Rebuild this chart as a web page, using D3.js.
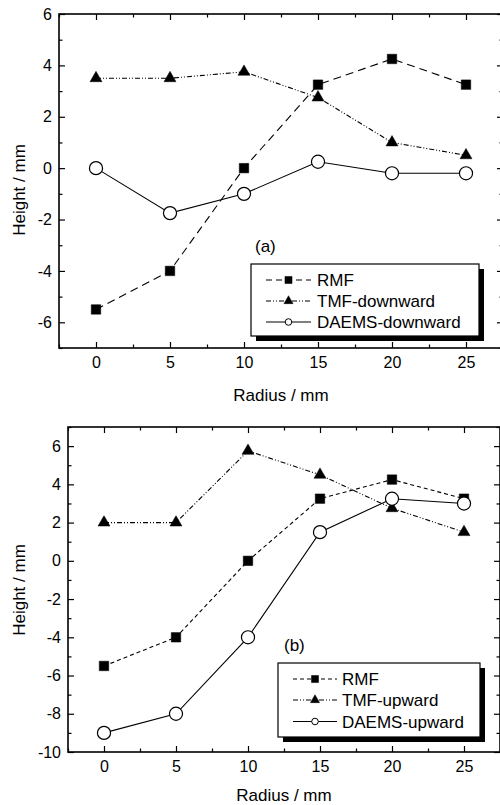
<!DOCTYPE html>
<html>
<head>
<meta charset="utf-8">
<script src="https://cdn.jsdelivr.net/npm/d3@7"></script>
<style>
  html, body { margin: 0; padding: 0; background: #fff; }
  svg { display: block; font-family: Arial, "Liberation Sans", sans-serif; }
</style>
</head>
<body>
<svg id="fig" width="500" height="805"></svg>
<script>
// Radius positions (mm) shared by both panels
const radius = [0, 5, 10, 15, 20, 25];

// Panel (a): downward field
const rmfA = [-5.5, -4, 0, 3.25, 4.25, 3.25];
const tmfDownward = [3.5, 3.5, 3.75, 2.75, 1.0, 0.5];
const daemsDownward = [0, -1.75, -1.0, 0.25, -0.2, -0.2];

// Panel (b): upward field
const rmfB = [-5.5, -4, 0, 3.25, 4.25, 3.25];
const tmfUpward = [2, 2, 5.75, 4.5, 2.75, 1.5];
const daemsUpward = [-9, -8, -4, 1.5, 3.25, 3.0];

// Tick values
const xMajorTicks = [0, 5, 10, 15, 20, 25];
const xMinorTicks = [-2.5, 2.5, 7.5, 12.5, 17.5, 22.5, 27.5];
const yMajorTicksA = [-6, -4, -2, 0, 2, 4, 6];
const yMajorTicksB = [-10, -8, -6, -4, -2, 0, 2, 4, 6];

const svg = d3.select("#fig");

function drawPanel(p) {
  const x = d3.scaleLinear().domain([-2.5, 27.5]).range([p.left, p.right]);
  const y = d3.scaleLinear().domain(p.yDomain).range([p.bottom, p.top]);
  const g = svg.append("g");

  const yMinor = d3.range(Math.ceil(p.yDomain[0]), p.yDomain[1] + 0.001, 1)
    .filter(v => !p.yTicks.includes(v));

  const fontSize = "16px";

  // bottom axis (labelled) + inward ticks
  const bx = g.append("g").attr("transform", `translate(0,${p.bottom})`)
    .call(d3.axisBottom(x).tickValues(xMajorTicks).tickSize(-6).tickPadding(9));
  bx.selectAll("text").attr("font-size", fontSize).attr("fill", "#000");
  g.append("g").attr("transform", `translate(0,${p.bottom})`)
    .call(d3.axisBottom(x).tickValues(xMinorTicks).tickSize(-3.5).tickFormat(""));

  // top axis, inward ticks, no labels
  g.append("g").attr("transform", `translate(0,${p.top})`)
    .call(d3.axisTop(x).tickValues(xMajorTicks).tickSize(-6).tickFormat(""));
  g.append("g").attr("transform", `translate(0,${p.top})`)
    .call(d3.axisTop(x).tickValues(xMinorTicks).tickSize(-3.5).tickFormat(""));

  // left axis (labelled)
  const ly = g.append("g").attr("transform", `translate(${p.left},0)`)
    .call(d3.axisLeft(y).tickValues(p.yTicks).tickSize(-6).tickPadding(7)
      .tickFormat(d => d < 0 ? "-" + Math.abs(d) : d));
  ly.selectAll("text").attr("font-size", fontSize).attr("fill", "#000");
  g.append("g").attr("transform", `translate(${p.left},0)`)
    .call(d3.axisLeft(y).tickValues(yMinor).tickSize(-3.5).tickFormat(""));

  // right axis, inward ticks
  g.append("g").attr("transform", `translate(${p.right},0)`)
    .call(d3.axisRight(y).tickValues(p.yTicks).tickSize(-6).tickFormat(""));
  g.append("g").attr("transform", `translate(${p.right},0)`)
    .call(d3.axisRight(y).tickValues(yMinor).tickSize(-3.5).tickFormat(""));

  g.selectAll(".domain").remove();
  g.selectAll(".tick line").attr("stroke", "#000").attr("stroke-width", 1.2);

  // frame
  g.append("rect")
    .attr("x", p.left).attr("y", p.top)
    .attr("width", p.right - p.left).attr("height", p.bottom - p.top)
    .attr("fill", "none").attr("stroke", "#000").attr("stroke-width", 1.6);

  // axis titles
  g.append("text")
    .attr("x", (p.left + p.right) / 2).attr("y", p.xTitleY)
    .attr("text-anchor", "middle").attr("font-size", "17px")
    .text("Radius / mm");
  g.append("text")
    .attr("transform", `translate(${p.yTitleX},${p.yTitleCY}) rotate(-90)`)
    .attr("text-anchor", "middle").attr("font-size", "17px")
    .text("Height / mm");

  // panel tag
  g.append("text").attr("x", p.tagX).attr("y", p.tagY)
    .attr("font-size", "17px").text(p.tag);

  const line = d3.line().x((d, i) => x(radius[i])).y(d => y(d));

  p.series.forEach(s => {
    g.append("path").datum(s.values)
      .attr("d", line)
      .attr("fill", "none").attr("stroke", "#000").attr("stroke-width", 1.1)
      .attr("stroke-dasharray", s.dash);
  });

  p.series.forEach(s => {
    const sym = d3.symbol().type(s.symbol).size(s.size);
    g.selectAll(null).data(s.values).enter().append("path")
      .attr("d", sym)
      .attr("transform", (d, i) => `translate(${x(radius[i])},${y(d)})`)
      .attr("fill", s.fill).attr("stroke", "#000").attr("stroke-width", s.fill === "#fff" ? 1.2 : 0.5);
  });

  // legend with drop shadow
  const L = p.legend;
  g.append("rect").attr("x", L.x + 5).attr("y", L.y + 5)
    .attr("width", L.w).attr("height", L.h).attr("fill", "#000");
  g.append("rect").attr("x", L.x).attr("y", L.y)
    .attr("width", L.w).attr("height", L.h)
    .attr("fill", "#fff").attr("stroke", "#000").attr("stroke-width", 1.2);

  p.series.forEach((s, i) => {
    const ry = L.rowY[i];
    g.append("line")
      .attr("x1", L.lineX0).attr("x2", L.lineX1).attr("y1", ry).attr("y2", ry)
      .attr("stroke", "#000").attr("stroke-width", 1.1)
      .attr("stroke-dasharray", s.legendDash || s.dash);
    g.append("path")
      .attr("d", d3.symbol().type(s.symbol).size(s.legendSize)())
      .attr("transform", `translate(${(L.lineX0 + L.lineX1) / 2},${ry})`)
      .attr("fill", s.fill).attr("stroke", "#000").attr("stroke-width", s.fill === "#fff" ? 1 : 0.5);
    g.append("text").attr("x", L.textX).attr("y", ry).attr("dy", "0.36em")
      .attr("font-size", "17px").text(s.name);
  });
}

drawPanel({
  left: 59, right: 503, top: 14, bottom: 348,
  yDomain: [-7, 6], yTicks: yMajorTicksA,
  xTitleY: 401, yTitleX: 25, yTitleCY: 190,
  tag: "(a)", tagX: 255, tagY: 252,
  legend: { x: 251, y: 264, w: 228, h: 72, rowY: [280, 301, 322],
            lineX0: 266, lineX1: 311, textX: 317 },
  series: [
    { name: "RMF", values: rmfA, dash: "8,5", legendDash: "6,4",
      symbol: d3.symbolSquare, size: 90, legendSize: 50, fill: "#000" },
    { name: "TMF-downward", values: tmfDownward, dash: "5,2,1,2,1,2",
      symbol: d3.symbolTriangle, size: 62, legendSize: 36, fill: "#000" },
    { name: "DAEMS-downward", values: daemsDownward, dash: null,
      symbol: d3.symbolCircle, size: 135, legendSize: 34, fill: "#fff" }
  ]
});

drawPanel({
  left: 68, right: 500, top: 427, bottom: 752,
  yDomain: [-10, 7], yTicks: yMajorTicksB,
  xTitleY: 801, yTitleX: 25, yTitleCY: 590,
  tag: "(b)", tagX: 284, tagY: 651,
  legend: { x: 278, y: 663, w: 202, h: 74, rowY: [679, 700, 721.5],
            lineX0: 293, lineX1: 337, textX: 342 },
  series: [
    { name: "RMF", values: rmfB, dash: "4,3", legendDash: "4,3",
      symbol: d3.symbolSquare, size: 90, legendSize: 50, fill: "#000" },
    { name: "TMF-upward", values: tmfUpward, dash: "5,2,1,2,1,2",
      symbol: d3.symbolTriangle, size: 62, legendSize: 36, fill: "#000" },
    { name: "DAEMS-upward", values: daemsUpward, dash: null,
      symbol: d3.symbolCircle, size: 135, legendSize: 34, fill: "#fff" }
  ]
});
</script>
</body>
</html>
